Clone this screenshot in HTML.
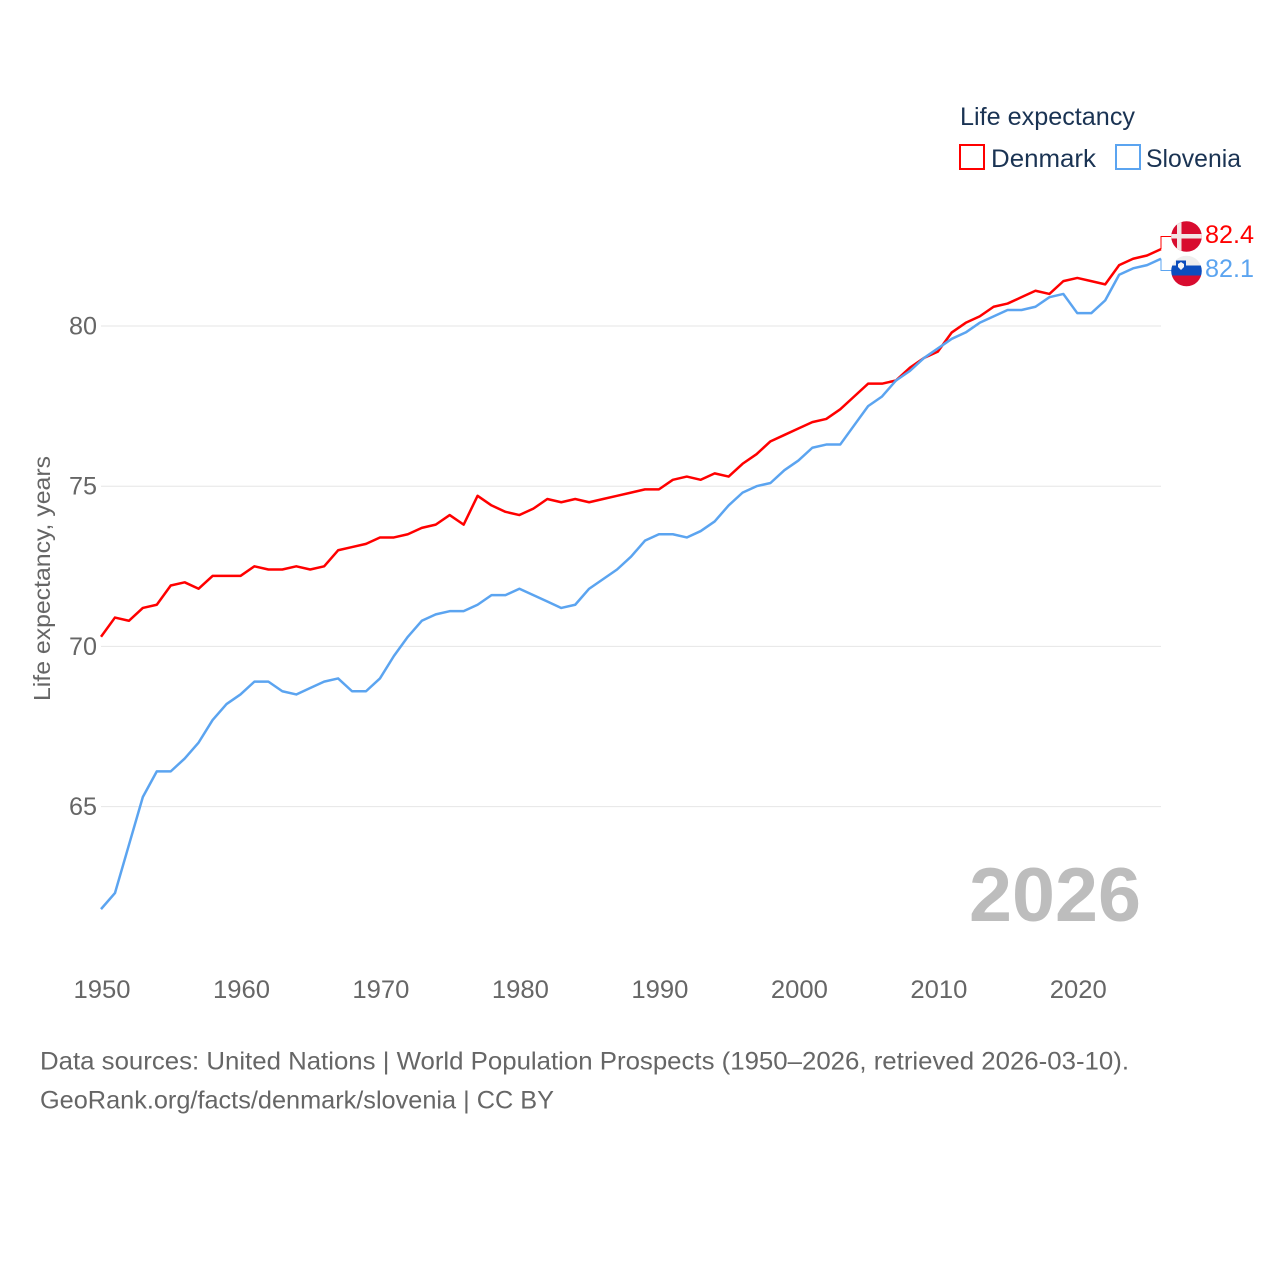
<!DOCTYPE html>
<html lang="en">
<head>
<meta charset="utf-8">
<title>Life expectancy: Denmark and Slovenia</title>
<style>
html,body{margin:0;padding:0;background:#fff;}
svg{display:block;font-family:"Liberation Sans",sans-serif;}
</style>
</head>
<body>
<svg id="chart" xmlns="http://www.w3.org/2000/svg" width="1280" height="1280" viewBox="0 0 1280 1280">
  <rect x="0" y="0" width="1280" height="1280" fill="#ffffff"/>
  <g id="grid"></g>
  <g id="yticks"></g>
  <g id="xticks"></g>
  <text transform="translate(50,701) rotate(-90)" font-size="23.500" fill="#666666" textLength="245" lengthAdjust="spacingAndGlyphs">Life expectancy, years</text>
  <text x="969" y="921" font-size="76" font-weight="bold" fill="#bdbdbd" textLength="172" lengthAdjust="spacingAndGlyphs">2026</text>
  <g id="series"></g>
  <g id="ends"></g>
  <g>
    <clipPath id="clip-dk"><circle cx="1186.5" cy="236.5" r="15.300"/></clipPath>
    <g clip-path="url(#clip-dk)">
      <rect x="1171" y="221" width="31" height="31" fill="#d80c2f"/>
      <rect x="1177" y="221" width="4.500" height="31" fill="#f2e6e6"/>
      <rect x="1171" y="234" width="31" height="4.500" fill="#f2e6e6"/>
    </g>
  </g>
  <g>
    <clipPath id="clip-si"><circle cx="1186.5" cy="271" r="15.300"/></clipPath>
    <g clip-path="url(#clip-si)">
      <rect x="1171" y="255" width="31" height="11" fill="#eeeeee"/>
      <rect x="1171" y="265.500" width="31" height="10" fill="#0c4dbd"/>
      <rect x="1171" y="275.500" width="31" height="12" fill="#d80c2f"/>
      <path d="M1176 260.500h10v6l-5 5-5-5z" fill="#0c4dbd"/>
      <path d="M1178 264l3-2 3 2v3l-3 3-3-3z" fill="#f6f6f6"/>
    </g>
  </g>
  <g>
    <text x="960" y="125" font-size="25" fill="#1a3353" textLength="175" lengthAdjust="spacingAndGlyphs">Life expectancy</text>
    <g>
      <rect x="960" y="145" width="24" height="24" fill="#ffffff" stroke="#ff0000" stroke-width="2"/>
      <text x="991" y="167" font-size="25" fill="#1a3353" textLength="105" lengthAdjust="spacingAndGlyphs">Denmark</text>
    </g>
    <g>
      <rect x="1116" y="145" width="24" height="24" fill="#ffffff" stroke="#5ba4f0" stroke-width="2"/>
      <text x="1146" y="167" font-size="25" fill="#1a3353" textLength="95" lengthAdjust="spacingAndGlyphs">Slovenia</text>
    </g>
  </g>
  <text x="40" y="1069.500" font-size="25" fill="#666666" textLength="1089" lengthAdjust="spacingAndGlyphs">Data sources: United Nations | World Population Prospects (1950–2026, retrieved 2026-03-10).</text>
  <text x="40" y="1108.500" font-size="25" fill="#666666" textLength="514" lengthAdjust="spacingAndGlyphs">GeoRank.org/facts/denmark/slovenia | CC BY</text>
</svg>
<script>
const startYear = 1950;
const denmark = [70.3,70.9,70.8,71.2,71.3,71.9,72.0,71.8,72.2,72.2,72.2,72.5,72.4,72.4,72.5,72.4,72.5,73.0,73.1,73.2,73.4,73.4,73.5,73.7,73.8,74.1,73.8,74.7,74.4,74.2,74.1,74.3,74.6,74.5,74.6,74.5,74.6,74.7,74.8,74.9,74.9,75.2,75.3,75.2,75.4,75.3,75.7,76.0,76.4,76.6,76.8,77.0,77.1,77.4,77.8,78.2,78.2,78.3,78.7,79.0,79.2,79.8,80.1,80.3,80.6,80.7,80.9,81.1,81.0,81.4,81.5,81.4,81.3,81.9,82.1,82.2,82.4];
const slovenia = [61.8,62.3,63.8,65.3,66.1,66.1,66.5,67.0,67.7,68.2,68.5,68.9,68.9,68.6,68.5,68.7,68.9,69.0,68.6,68.6,69.0,69.7,70.3,70.8,71.0,71.1,71.1,71.3,71.6,71.6,71.8,71.6,71.4,71.2,71.3,71.8,72.1,72.4,72.8,73.3,73.5,73.5,73.4,73.6,73.9,74.4,74.8,75.0,75.1,75.5,75.8,76.2,76.3,76.3,76.9,77.5,77.8,78.3,78.6,79.0,79.3,79.6,79.8,80.1,80.3,80.5,80.5,80.6,80.9,81.0,80.4,80.4,80.8,81.6,81.8,81.9,82.1];
const yTicks = [65,70,75,80];
const xTicks = [1950,1960,1970,1980,1990,2000,2010,2020];

const NS = 'http://www.w3.org/2000/svg';
function xScale(year){ return 101 + (year - 1950) * (1161 - 101) / 76; }
function yScale(v){ return 326 + (80 - v) * (806.6 - 326) / 15; }
function make(tag, attrs, parent, text){
  const el = document.createElementNS(NS, tag);
  for (const k in attrs) el.setAttribute(k, attrs[k]);
  if (text !== undefined) el.textContent = text;
  parent.appendChild(el);
  return el;
}
const grid = document.getElementById('grid');
const yG = document.getElementById('yticks');
const xG = document.getElementById('xticks');
const seriesG = document.getElementById('series');
const endsG = document.getElementById('ends');

yTicks.forEach(function(t){
  const line = make('line', {x1:101, x2:1161, y1:yScale(t), y2:yScale(t), stroke:'#e6e6e6', 'stroke-width':1}, grid);
  
  
  const lab = make('text', {x:97, y:yScale(t)+8.5, 'text-anchor':'end', 'font-size':25, fill:'#666666', textLength:28, lengthAdjust:'spacingAndGlyphs'}, yG, String(t));
  
  
});
xTicks.forEach(function(t){
  const lab = make('text', {x:xScale(t)+1, y:998, 'text-anchor':'middle', 'font-size':25, fill:'#666666', textLength:57, lengthAdjust:'spacingAndGlyphs'}, xG, String(t));
  
  
});
function linePoints(values){
  return values.map(function(v,i){ return xScale(startYear+i).toFixed(2)+','+yScale(v).toFixed(2); }).join(' ');
}
const redLine = make('polyline', {points:linePoints(denmark), fill:'none', stroke:'#ff0000', 'stroke-width':2.5, 'stroke-linejoin':'round'}, seriesG);


const blueLine = make('polyline', {points:linePoints(slovenia), fill:'none', stroke:'#5ba4f0', 'stroke-width':2.5, 'stroke-linejoin':'round'}, seriesG);



function endLabel(values, color, labelY, name){
  const last = values[values.length-1];
  const xEnd = xScale(startYear+values.length-1);
  const conn = make('polyline', {points:xEnd+','+yScale(last)+' '+xEnd+','+(labelY+0.5)+' 1172,'+(labelY+0.5), fill:'none', stroke:color, 'stroke-width':1}, endsG);
  
  
  const t = make('text', {x:1205, y:labelY+7, 'font-size':25, fill:color, textLength:49, lengthAdjust:'spacingAndGlyphs'}, endsG, last.toFixed(1));
  
  
}
endLabel(denmark, '#ff0000', 236, 'denmark');
endLabel(slovenia, '#5ba4f0', 270, 'slovenia');
</script>
</body>
</html>
